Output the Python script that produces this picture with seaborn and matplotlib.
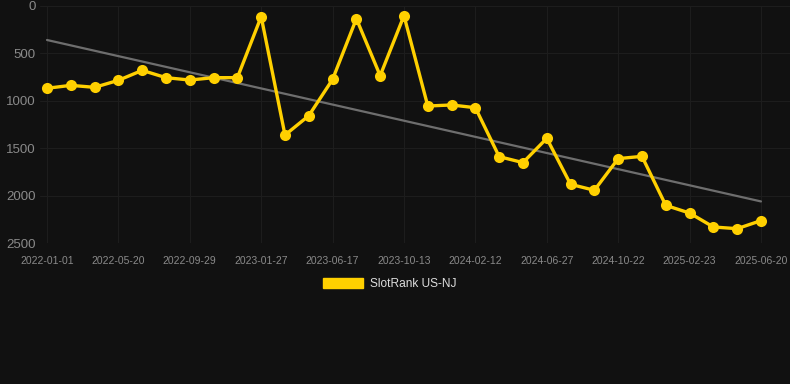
import numpy as np
import pandas as pd
import seaborn as sns
import matplotlib.pyplot as plt
from matplotlib.patches import Patch

# dates of each sample (every 3rd one is labelled on the axis)
dates = ['2022-01-01', '2022-02-16', '2022-04-03', '2022-05-20', '2022-07-03', '2022-08-16',
         '2022-09-29', '2022-11-08', '2022-12-18', '2023-01-27', '2023-03-14', '2023-05-01',
         '2023-06-17', '2023-07-26', '2023-09-03', '2023-10-13', '2023-11-23', '2024-01-02',
         '2024-02-12', '2024-03-28', '2024-05-13', '2024-06-27', '2024-08-05', '2024-09-13',
         '2024-10-22', '2024-12-03', '2025-01-13', '2025-02-23', '2025-04-02', '2025-05-11',
         '2025-06-20']

# rank values
rank = [868, 837, 858, 784, 679, 756, 781, 756, 756, 112, 1361, 1157, 774, 134, 735,
        102, 1055, 1044, 1073, 1589, 1652, 1396, 1881, 1944, 1610, 1586, 2103, 2184,
        2331, 2349, 2264]

series_name = 'SlotRank US-NJ'
y_ticks = [0, 500, 1000, 1500, 2000, 2500]

bg = '#111111'
yellow = '#FFD000'

df = pd.DataFrame({'idx': np.arange(len(dates)), 'date': dates, 'rank': rank})

# linear trend
coef = np.polyfit(df['idx'], df['rank'], 1)
df['trend'] = np.polyval(coef, df['idx'])

sns.set_style('dark')
plt.rcParams['font.family'] = ['Liberation Sans', 'DejaVu Sans']

fig = plt.figure(figsize=(7.9, 3.84), dpi=100, facecolor=bg)
ax = fig.add_axes([40 / 790, 1 - 243 / 384, 750 / 790, 237 / 384])
ax.set_facecolor(bg)

sns.lineplot(data=df, x='idx', y='trend', ax=ax, color='#6e6e6e', linewidth=1.6, zorder=2)
sns.lineplot(data=df, x='idx', y='rank', ax=ax, color=yellow, linewidth=2.4,
             marker='o', markersize=8, markeredgewidth=0, zorder=3)

ax.set_xlim(-0.294, 31.22)
ax.set_ylim(2500, 0)
ax.set_yticks(y_ticks)
ax.set_xticks(df['idx'][::3])
ax.set_xticklabels(df['date'][::3])

ax.grid(True, color='#1d1d1d', linewidth=0.8)
ax.tick_params(axis='y', colors='#8a8a8a', labelsize=9.5, length=0, pad=3)
ax.tick_params(axis='x', colors='#8a8a8a', labelsize=7.5, length=0, pad=9)
for s in ax.spines.values():
    s.set_visible(False)
ax.set_xlabel('')
ax.set_ylabel('')

fig.legend(handles=[Patch(facecolor=yellow, edgecolor=yellow, label=series_name)],
           loc='center', bbox_to_anchor=(390 / 790, 1 - 284 / 384), frameon=False,
           handlelength=3.3, handleheight=0.9, handletextpad=0.6,
           fontsize=8.6, labelcolor='#dddddd')

fig.savefig('out.png', dpi=100, facecolor=bg)
